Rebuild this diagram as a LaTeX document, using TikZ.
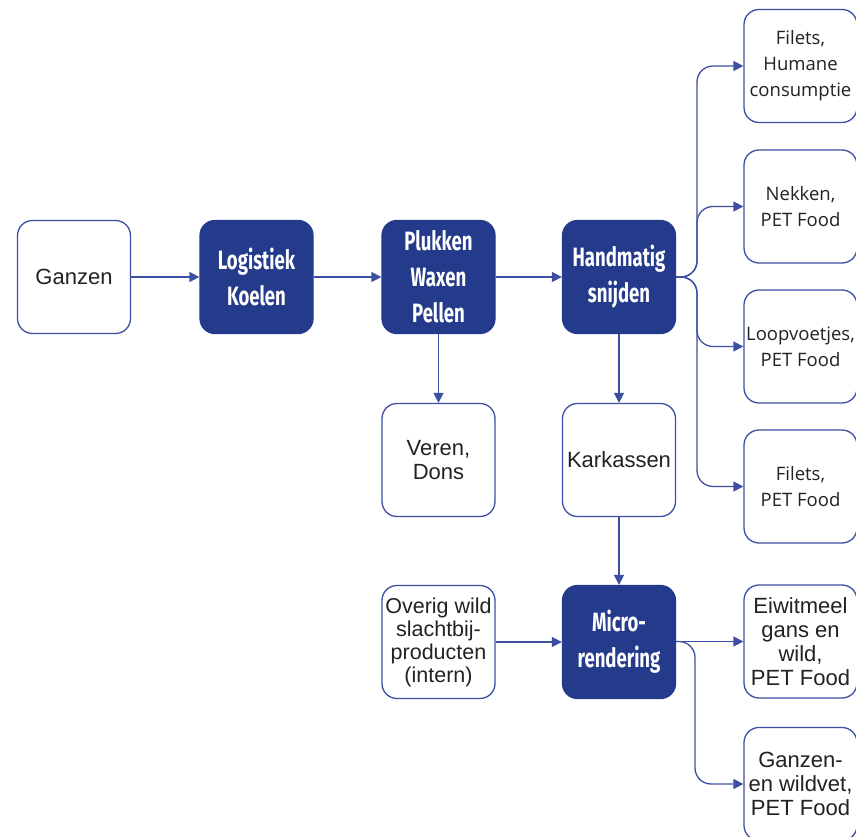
\documentclass[tikz,border=0pt]{standalone}
\usepackage{fontspec}
\setmainfont{Liberation Sans}
\newfontfamily\humfont{Open Sans}
\newfontfamily\condfont{Fira Sans}[FakeStretch=0.7]
\usetikzlibrary{arrows.meta}
\definecolor{navy}{HTML}{243A8B}
\definecolor{edge}{HTML}{3C4FA2}
\definecolor{ink}{HTML}{222222}
\tikzset{
  box/.style={rectangle, rounded corners=15pt, minimum width=113pt, minimum height=113pt,
    inner sep=0pt, align=center, line width=1.3pt},
  stepbox/.style={box, fill=navy, draw=navy, text=white,
    font=\condfont\bfseries\fontsize{26.5}{36}\selectfont},
  outbox/.style={box, draw=edge, fill=white, text=ink,
    font=\fontsize{22}{24}\selectfont},
  sidebox/.style={box, draw=edge, fill=white, text=ink,
    font=\humfont\fontsize{18.5}{26}\selectfont},
  conn/.style={draw=edge, line width=1.3pt,
    -{Triangle[length=10pt,width=10pt]}},
}
\begin{document}
\begin{tikzpicture}[x=1pt,y=-1pt]
\useasboundingbox (0,0) rectangle (856,837);
\fill[white] (0,0) rectangle (856,837);

% main line
\node[outbox]  (ganzen) at (74,277)    {Ganzen};
\node[stepbox] (log)    at (256.5,277) {Logistiek\\Koelen};
\node[stepbox] (pluk)   at (438.5,277) {Plukken\\Waxen\\Pellen};
\node[stepbox] (hand)   at (619,277)   {Handmatig\\snijden};

% second and third rows
\node[outbox]  (veren)  at (438.5,460) {Veren,\\Dons};
\node[outbox]  (kark)   at (619,460)   {Karkassen};
\node[outbox, font=\fontsize{21.5}{23}\selectfont]
               (overig) at (438.5,642) {Overig wild\\slachtbij-\\producten\\(intern)};
\node[stepbox] (micro)  at (619,642)   {Micro-\\rendering};

% products
\node[sidebox] (filA)   at (800.5,66)    {Filets,\\Humane\\consumptie};
\node[sidebox] (nek)    at (800.5,206.5) {Nekken,\\PET Food};
\node[sidebox] (loop)   at (800.5,346.5) {Loopvoetjes,\\PET Food};
\node[sidebox] (filB)   at (800.5,486.5) {Filets,\\PET Food};
\node[outbox]  (eiw)    at (800.5,641.5) {Eiwitmeel\\gans en\\wild,\\PET Food};
\node[outbox]  (vet)    at (800.5,784)   {Ganzen-\\en wildvet,\\PET Food};

% branch lines
\coordinate (trunkA) at (697,0);
\coordinate (trunkB) at (695,0);

\draw[conn] (ganzen) -- (log);
\draw[conn] (log) -- (pluk);
\draw[conn] (pluk) -- (hand);
\draw[conn] (pluk) -- (veren);
\draw[conn] (hand) -- (kark);
\draw[conn] (kark) -- (micro);
\draw[conn] (overig) -- (micro);

\foreach \t in {filA,nek,loop,filB}
  \draw[conn, rounded corners=16pt] (hand.east) -- (hand.east -| trunkA) |- (\t.west);

\draw[conn] (micro.east |- eiw.west) -- (eiw.west);
\draw[conn, rounded corners=16pt] (micro.east |- eiw.west) -- (eiw.west -| trunkB) |- (vet.west);
\end{tikzpicture}
\end{document}
